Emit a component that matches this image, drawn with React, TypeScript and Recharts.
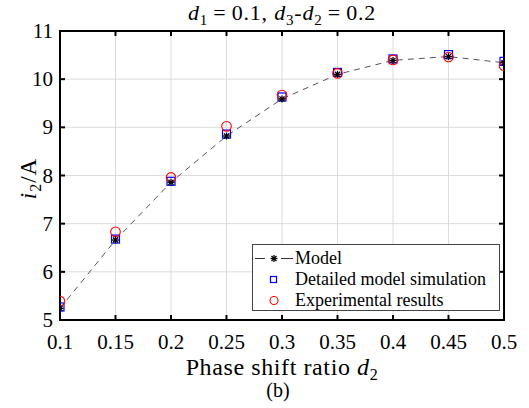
import React from "react";
import { ComposedChart, Line, XAxis, YAxis, CartesianGrid, ReferenceArea, Legend, Label } from "recharts";

// phase shift ratio d2 and measured/simulated i2 (A)
const phaseRatio = [0.1, 0.15, 0.2, 0.25, 0.3, 0.35, 0.4, 0.45, 0.5];
const modelI2 = [5.24, 6.66, 7.86, 8.82, 9.59, 10.1, 10.39, 10.47, 10.34];
const simulationI2 = [5.27, 6.68, 7.88, 8.86, 9.63, 10.14, 10.42, 10.51, 10.37];
const experimentI2 = [5.39, 6.83, 7.96, 9.02, 9.67, 10.12, 10.4, 10.46, 10.28];
const xTicks = [0.1, 0.15, 0.2, 0.25, 0.3, 0.35, 0.4, 0.45, 0.5];
const yTicks = [5, 6, 7, 8, 9, 10, 11];
const legendOrder = ["model", "sim", "exp"];

const data = phaseRatio.map((d2, i) => ({
  d2,
  model: modelI2[i],
  sim: simulationI2[i],
  exp: experimentI2[i],
}));

const SERIF = "Liberation Serif, Times New Roman, serif";
const serif = { fontFamily: SERIF };

const renderBottomTick = (p: any) => (
  <g key={`b-${p.index}`}>
    <line x1={p.x} y1={p.y} x2={p.x} y2={p.y - 5} stroke="#000" strokeWidth={2} />
    <text x={p.x} y={p.y + 29} textAnchor="middle" fontSize={21} style={serif} fill="#000">
      {String(p.payload.value)}
    </text>
  </g>
);
const renderTopTick = (p: any) => (
  <line key={`t-${p.index}`} x1={p.x} y1={p.y} x2={p.x} y2={p.y + 5} stroke="#000" strokeWidth={2} />
);
const renderLeftTick = (p: any) => (
  <g key={`l-${p.index}`}>
    <line x1={p.x} y1={p.y} x2={p.x + 5} y2={p.y} stroke="#000" strokeWidth={2} />
    <text x={p.x - 7} y={p.y + 7} textAnchor="end" fontSize={21} style={serif} fill="#000">
      {String(p.payload.value)}
    </text>
  </g>
);
const renderRightTick = (p: any) => (
  <line key={`r-${p.index}`} x1={p.x} y1={p.y} x2={p.x - 5} y2={p.y} stroke="#000" strokeWidth={2} />
);

const titleLabel = (props: any) => {
  const vb = props.viewBox || { x: 60, width: 444 };
  return (
    <text x={vb.x + vb.width / 2} y={20} textAnchor="middle" fontSize={22} letterSpacing={0.8} fill="#000" style={{ ...serif, whiteSpace: "pre" }}>
      <tspan fontStyle="italic">d</tspan>
      <tspan fontSize={15} dy={5}>1</tspan>
      <tspan dy={-5}>{"\u2009=\u20090.1, "}</tspan>
      <tspan fontStyle="italic">d</tspan>
      <tspan fontSize={15} dy={5}>3</tspan>
      <tspan dy={-5}>-</tspan>
      <tspan fontStyle="italic">d</tspan>
      <tspan fontSize={15} dy={5}>2</tspan>
      <tspan dy={-5}>{"\u2009=\u20090.2"}</tspan>
    </text>
  );
};

const xLabel = (props: any) => {
  const vb = props.viewBox || { x: 60, y: 320, width: 444 };
  return (
    <g>
      <text x={vb.x + vb.width / 2} y={vb.y + 55} textAnchor="middle" fontSize={24} letterSpacing={0.6} fill="#000" style={{ ...serif, whiteSpace: "pre" }}>
        <tspan>{"Phase shift ratio "}</tspan>
        <tspan fontStyle="italic">d</tspan>
        <tspan fontSize={16} dy={5}>2</tspan>
      </text>
      <text x={vb.x + vb.width / 2 - 4} y={vb.y + 77} textAnchor="middle" fontSize={20} fill="#000" style={serif}>
        (b)
      </text>
    </g>
  );
};

const yLabel = (props: any) => {
  const vb = props.viewBox || { y: 31, height: 289 };
  const cx = 36;
  const cy = vb.y + vb.height / 2 + 3;
  return (
    <text x={cx} y={cy} transform={`rotate(-90, ${cx}, ${cy})`} textAnchor="middle" fontSize={23} letterSpacing={1} fill="#000" style={serif}>
      <tspan fontStyle="italic">i</tspan>
      <tspan fontSize={16} dy={5}>2</tspan>
      <tspan dy={-5}>/A</tspan>
    </text>
  );
};

const renderAsterisk = (p: any) => {
  const { cx, cy } = p;
  const r = 3.5;
  const d = r * 0.72;
  return (
    <g key={`ast-${p.index}`} stroke="#000" strokeWidth={1.3}>
      <line x1={cx} y1={cy - r} x2={cx} y2={cy + r} />
      <line x1={cx - r} y1={cy} x2={cx + r} y2={cy} />
      <line x1={cx - d} y1={cy - d} x2={cx + d} y2={cy + d} />
      <line x1={cx - d} y1={cy + d} x2={cx + d} y2={cy - d} />
    </g>
  );
};
const renderSquare = (p: any) => (
  <rect key={`sq-${p.index}`} x={p.cx - 4} y={p.cy - 4} width={8} height={8} fill="none" stroke="#0000ff" strokeWidth={1.2} />
);
const renderCircle = (p: any) => (
  <circle key={`ci-${p.index}`} cx={p.cx} cy={p.cy} r={4.8} fill="none" stroke="#ff0000" strokeWidth={1.1} />
);

const legendIcon = (key: string) => {
  if (key === "model")
    return (
      <g>
        <line x1={2} y1={10.5} x2={12} y2={10.5} stroke="#333" strokeWidth={1} />
        <line x1={28} y1={10.5} x2={40} y2={10.5} stroke="#333" strokeWidth={1} />
        {renderAsterisk({ cx: 21, cy: 10.5, index: "lg" })}
      </g>
    );
  if (key === "sim") return <rect x={17.5} y={7.5} width={6} height={6} fill="none" stroke="#0000ff" strokeWidth={1.2} />;
  return <circle cx={21} cy={10.5} r={4} fill="none" stroke="#ff0000" strokeWidth={1.1} />;
};

const LegendBox = (props: any) => {
  const payload = props.payload || [];
  const rows = legendOrder
    .map((k) => payload.find((e: any) => String(e.dataKey) === k && e.type !== "none"))
    .filter(Boolean);
  return (
    <div style={{ border: "1px solid #444", background: "#fff", width: 248, height: 67, boxSizing: "border-box", paddingTop: 3, fontFamily: SERIF, fontSize: 18, color: "#000" }}>
      {rows.map((entry: any) => (
        <div key={String(entry.dataKey)} style={{ display: "flex", alignItems: "center", height: 21, lineHeight: "21px" }}>
          <svg width={42} height={21} style={{ flex: "none" }}>{legendIcon(String(entry.dataKey))}</svg>
          <span style={{ fontFamily: SERIF }}>{entry.value}</span>
        </div>
      ))}
    </div>
  );
};

export default function App() {
  return (
    <div style={{ position: "absolute", left: 0, top: 0, width: 529, height: 408, background: "#fff", fontFamily: SERIF }}>
      <ComposedChart width={529} height={408} data={data} margin={{ top: 30, right: 24, bottom: 58, left: 0 }}>
        <CartesianGrid stroke="#dcdcdc" strokeWidth={1} />
        <XAxis dataKey="d2" type="number" domain={[0.1, 0.5]} ticks={xTicks} allowDataOverflow interval={0} height={30}
          axisLine={false} tickLine={false} tickSize={0} tickMargin={0} tick={renderBottomTick}>
          <Label content={xLabel} />
        </XAxis>
        <XAxis xAxisId="top" orientation="top" dataKey="d2" type="number" domain={[0.1, 0.5]} ticks={xTicks} allowDataOverflow interval={0} height={1}
          axisLine={false} tickLine={false} tickSize={0} tickMargin={0} tick={renderTopTick}>
          <Label content={titleLabel} />
        </XAxis>
        <YAxis type="number" domain={[5, 11]} ticks={yTicks} allowDataOverflow interval={0} width={60}
          axisLine={false} tickLine={false} tickSize={0} tickMargin={0} tick={renderLeftTick}>
          <Label content={yLabel} />
        </YAxis>
        <YAxis yAxisId="right" orientation="right" type="number" domain={[5, 11]} ticks={yTicks} allowDataOverflow interval={0} width={1}
          axisLine={false} tickLine={false} tickSize={0} tickMargin={0} tick={renderRightTick} />
        <ReferenceArea x1={0.1} x2={0.5} y1={5} y2={11} fill="none" stroke="#000" strokeWidth={2} ifOverflow="visible" />
        <Line name="Model" dataKey="model" stroke="#555" strokeWidth={1} strokeDasharray="6 5" dot={false} activeDot={false} isAnimationActive={false} />
        <Line name="Detailed model simulation" dataKey="sim" stroke="none" dot={renderSquare} activeDot={false} isAnimationActive={false} />
        <Line name="Experimental results" dataKey="exp" stroke="none" dot={renderCircle} activeDot={false} isAnimationActive={false} />
        <Line name="Model markers" dataKey="model" stroke="none" dot={renderAsterisk} activeDot={false} legendType="none" isAnimationActive={false} />
        <Legend layout="vertical" align="center" verticalAlign="middle" content={LegendBox}
          wrapperStyle={{ left: 252, top: 244, width: 248, height: 67 }} />
      </ComposedChart>
    </div>
  );
}
